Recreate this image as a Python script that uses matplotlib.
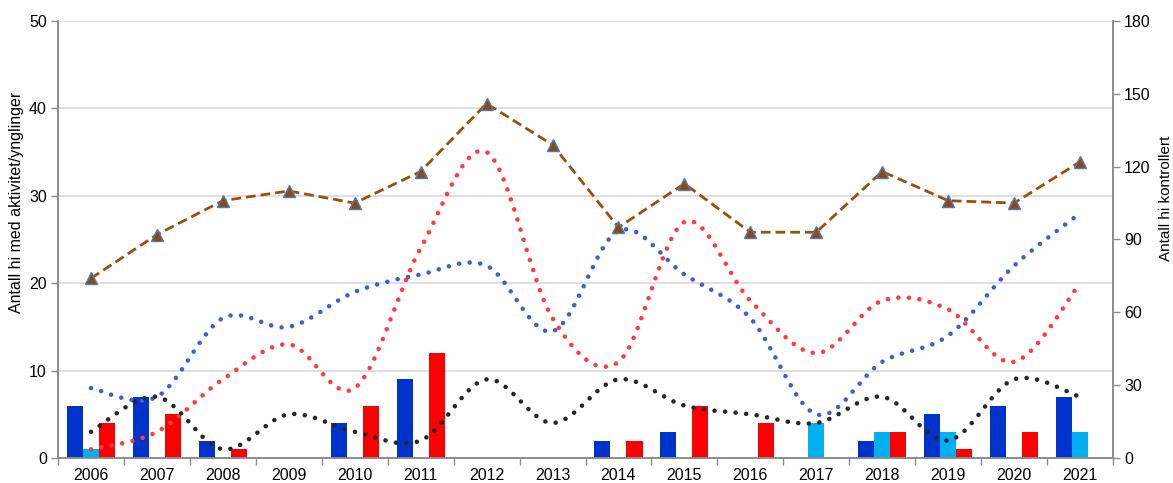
import matplotlib
matplotlib.use("Agg")
import matplotlib.pyplot as plt
from matplotlib.path import Path
from matplotlib.patches import PathPatch
from matplotlib.ticker import FixedLocator
import numpy as np

plt.rcParams['font.family'] = ['Liberation Sans', 'DejaVu Sans']

years = ['2006', '2007', '2008', '2009', '2010', '2011', '2012', '2013',
         '2014', '2015', '2016', '2017', '2018', '2019', '2020', '2021']

# Bars (left axis)
bar_blue = [6, 7, 2, 0, 4, 9, 0, 0, 2, 3, 0, 0, 2, 5, 6, 7]
bar_lightblue = [1, 0, 0, 0, 0, 0, 0, 0, 0, 0, 0, 4, 3, 3, 0, 3]
bar_red = [4, 5, 1, 0, 6, 12, 0, 0, 2, 6, 4, 0, 3, 1, 3, 0]

# Smoothed dotted lines (left axis)
line_blue = [8, 7, 16, 15, 19, 21, 22, 14.5, 26, 21, 16, 5, 11, 14, 22, 28]
line_red = [1, 3, 9, 13, 8, 24, 35, 16, 11, 27, 18, 12, 18, 17, 11, 20]
line_black = [3, 7, 1, 5, 3, 2, 9, 4, 9, 6, 5, 4, 7, 2, 9, 7]

# Dashed line (right axis)
kontrollert = [74, 92, 106, 110, 105, 118, 146, 129, 95, 113, 93, 93, 118, 106, 105, 122]


def smooth_path(xs, ys):
    pts = np.column_stack([xs, ys]).astype(float)
    n = len(pts)
    verts = [pts[0]]
    codes = [Path.MOVETO]
    for i in range(n - 1):
        p0 = pts[i - 1] if i > 0 else pts[i]
        p1 = pts[i]
        p2 = pts[i + 1]
        p3 = pts[i + 2] if i + 2 < n else pts[i + 1]
        c1 = p1 + (p2 - p0) / 6.0
        c2 = p2 - (p3 - p1) / 6.0
        verts += [c1, c2, p2]
        codes += [Path.CURVE4] * 3
    return Path(verts, codes)


fig = plt.figure(figsize=(11.73, 4.83), dpi=100)
ax = fig.add_axes([58 / 1173, 1 - 458 / 483, (1113 - 58) / 1173, (458 - 21) / 483])
ax2 = ax.twinx()

x = np.arange(len(years))
w = 0.243
ax.bar(x - w, bar_blue, width=w, color='#0033CC', zorder=2)
ax.bar(x, bar_lightblue, width=w, color='#00B0F0', zorder=2)
ax.bar(x + w, bar_red, width=w, color='#FF0000', zorder=2)

for vals, col in [(line_blue, '#3A5FDC'), (line_red, '#FF3B3B'), (line_black, '#262626')]:
    p = PathPatch(smooth_path(x, vals), fill=False, edgecolor=col, linewidth=3.3,
                  linestyle=(0, (0.01, 2.3)), capstyle='round', zorder=3)
    ax.add_patch(p)

ax2.plot(x, kontrollert, color='#9A4F0C', linewidth=2.0, linestyle=(0, (3.5, 1.8)),
         marker='^', markersize=8, markerfacecolor='#8B4A12',
         markeredgecolor='#4F79B8', markeredgewidth=1.0, zorder=4)

ax.set_xlim(-0.5, 15.5)
ax.set_ylim(0, 50)
ax2.set_ylim(0, 180)
ax.set_yticks(np.arange(0, 51, 10))
ax2.set_yticks(np.arange(0, 181, 30))
ax.set_xticks(x)
ax.set_xticklabels(years)
ax.xaxis.set_minor_locator(FixedLocator(np.arange(-0.5, 16, 1)))
ax.tick_params(axis='x', which='major', length=0, pad=7, labelsize=11.5, colors='#000000')
ax.tick_params(axis='x', which='minor', length=5, width=1, color='#8C8C8C')
ax.tick_params(axis='y', length=5, width=1, color='#8C8C8C', labelsize=11.5, pad=3)
ax2.tick_params(axis='y', length=5, width=1, color='#8C8C8C', labelsize=11.5, pad=3)

ax.grid(axis='y', color='#D9D9D9', linewidth=1.2, zorder=0)
ax.set_axisbelow(True)
for a in (ax, ax2):
    a.spines['top'].set_visible(False)
    for s in ('left', 'right', 'bottom'):
        a.spines[s].set_color('#8C8C8C')
        a.spines[s].set_linewidth(1.2)

ax.set_ylabel('Antall hi med aktivitet/ynglinger', fontsize=11.5)
ax2.set_ylabel('Antall hi kontrollert', fontsize=11)
ax.yaxis.set_label_coords((24 - 58) / 1055, (458 - 202) / 437)
ax2.yaxis.set_label_coords((1159 - 58) / 1055, (458 - 198) / 437)

fig.savefig('out.png', dpi=100)
